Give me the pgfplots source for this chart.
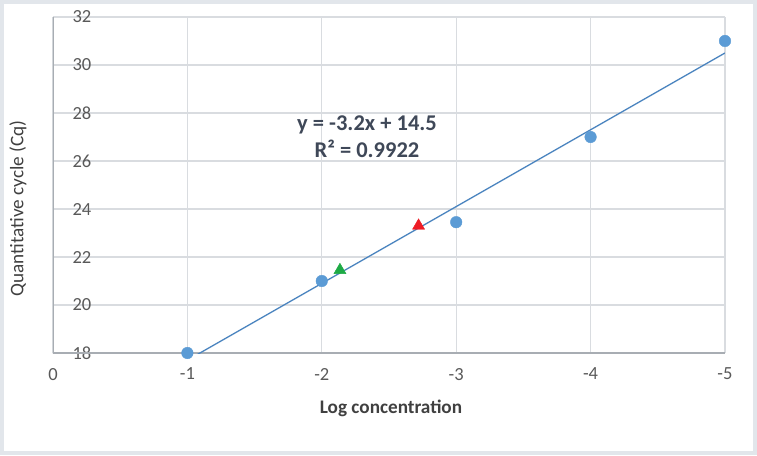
\documentclass[border=0pt]{standalone}
\usepackage{fontspec}
\setmainfont{Carlito}
\usepackage{pgfplots}
\pgfplotsset{compat=1.18}
\definecolor{framecol}{HTML}{E2E6EB}
\definecolor{gridcol}{HTML}{D9DCE0}
\definecolor{axiscol}{HTML}{A8ADB3}
\definecolor{txtcol}{HTML}{595959}
\definecolor{labcol}{HTML}{404040}
\definecolor{eqcol}{HTML}{3F4858}
\definecolor{ptblue}{HTML}{5B9BD5}
\definecolor{trendblue}{HTML}{4A84BF}
\definecolor{tgreen}{HTML}{1EAA45}
\definecolor{tred}{HTML}{EE1C25}
\begin{document}
\begin{tikzpicture}[x=1pt,y=1pt]
\fill[framecol] (0,0) rectangle (757,455);
\fill[white] (4,4) rectangle (753,451);
\begin{axis}[
  at={(53pt,102pt)}, anchor=south west,
  scale only axis, width=672pt, height=336pt,
  xmin=-5, xmax=0, x dir=reverse,
  ymin=18, ymax=32,
  xtick={0,-1,-2,-3,-4,-5},
  xticklabels={0,-1,-2,-3,-4,-5},
  ytick={18,20,22,24,26,28,30,32},
  /pgf/number format/assume math mode=true,
  grid=major,
  major grid style={draw=gridcol, line width=1.2pt},
  axis line style={draw=none},
  major tick length=0pt,
  tick label style={font=\fontsize{18.5}{21}\selectfont, text=txtcol},
  yticklabel style={anchor=west, xshift=16pt},
  xticklabel style={yshift=-11.5pt},
]
\draw[axiscol, line width=1.2pt] (axis cs:0,32) -- (axis cs:0,18) -- (axis cs:-5,18);
\addplot[trendblue, line width=1.3pt] coordinates {(-1,17.7) (-5,30.5)};
\addplot[only marks, mark=*, mark size=5.8pt, mark options={fill=ptblue, draw=ptblue}]
  coordinates {(-1,18) (-2,21) (-3,23.45) (-4,27) (-5,31)};
\addplot[only marks, mark=triangle*, mark size=7pt, mark options={fill=tgreen, draw=tgreen}]
  coordinates {(-2.135,21.45)};
\addplot[only marks, mark=triangle*, mark size=7pt, mark options={fill=tred, draw=tred}]
  coordinates {(-2.72,23.3)};
\end{axis}
\node[font=\bfseries\fontsize{22.5}{27}\selectfont, text=eqcol, align=center] at (367,318.5)
  {y = -3.2x + 14.5\\R² = 0.9922};
\node[font=\bfseries\fontsize{19.2}{22}\selectfont, text=labcol] at (391,47) {Log concentration};
\node[font=\fontsize{19.2}{22}\selectfont, text=labcol, rotate=90] at (18,246.5) {Quantitative cycle (Cq)};
\end{tikzpicture}
\end{document}
